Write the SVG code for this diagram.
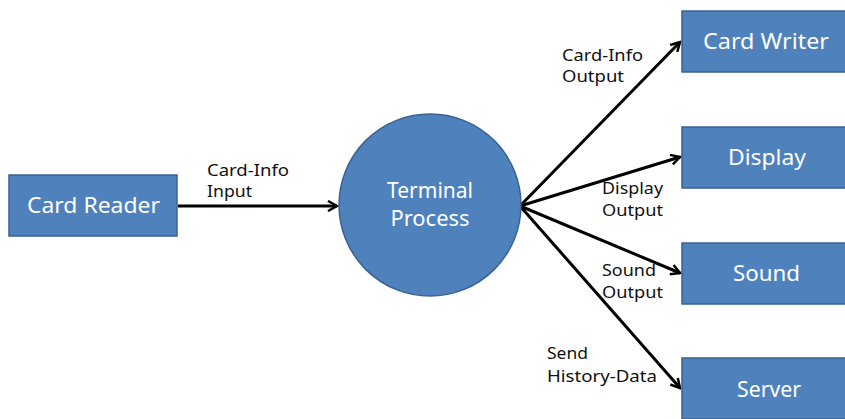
<svg xmlns="http://www.w3.org/2000/svg" width="845" height="419" viewBox="0 0 845 419">
<defs>
<style>
.box{fill:#4F81BD;stroke:#3A6291;stroke-width:1.5}
.bt{font-family:"Noto Sans","Open Sans",sans-serif;font-size:21px;fill:#fff;text-anchor:middle}
.lb{font-family:"Noto Sans","Open Sans",sans-serif;font-size:15.5px;fill:#111}
.cn{stroke:#000;stroke-width:3;fill:none;marker-end:url(#ah)}
</style>
<marker id="ah" viewBox="0 0 12 12" refX="10" refY="6" markerWidth="12" markerHeight="12" markerUnits="userSpaceOnUse" orient="auto">
<polyline points="1,1 10,6 1,11" fill="none" stroke="#000" stroke-width="2.5"/>
</marker>
</defs>
<rect width="845" height="419" fill="#fff"/>
<g id="connectors">
<line class="cn" x1="178" y1="206" x2="337" y2="206"/>
<line class="cn" x1="520" y1="206" x2="680" y2="42"/>
<line class="cn" x1="520" y1="206" x2="680" y2="157"/>
<line class="cn" x1="520" y1="206" x2="680" y2="273"/>
<line class="cn" x1="520" y1="206" x2="680" y2="388"/>
<text class="lb" x="207" y="176" textLength="82" lengthAdjust="spacingAndGlyphs">Card-Info</text>
<text class="lb" x="207" y="197" textLength="45" lengthAdjust="spacingAndGlyphs">Input</text>
<text class="lb" x="562" y="61" textLength="81" lengthAdjust="spacingAndGlyphs">Card-Info</text>
<text class="lb" x="562" y="82" textLength="62" lengthAdjust="spacingAndGlyphs">Output</text>
<text class="lb" x="602" y="194" textLength="61" lengthAdjust="spacingAndGlyphs">Display</text>
<text class="lb" x="602" y="216" textLength="61" lengthAdjust="spacingAndGlyphs">Output</text>
<text class="lb" x="602" y="276" textLength="54" lengthAdjust="spacingAndGlyphs">Sound</text>
<text class="lb" x="602" y="298" textLength="61" lengthAdjust="spacingAndGlyphs">Output</text>
<text class="lb" x="547" y="359" textLength="41" lengthAdjust="spacingAndGlyphs">Send</text>
<text class="lb" x="547" y="382" textLength="110" lengthAdjust="spacingAndGlyphs">History-Data</text>
</g>
<g id="card-reader">
<rect class="box" x="9" y="175" width="168" height="61"/>
<text class="bt" x="93.5" y="213" textLength="133" lengthAdjust="spacingAndGlyphs">Card Reader</text>
</g>
<g id="terminal-process">
<circle class="box" cx="430" cy="205" r="91"/>
<text class="bt" x="430" y="198" textLength="86" lengthAdjust="spacingAndGlyphs">Terminal</text>
<text class="bt" x="430" y="226" textLength="79" lengthAdjust="spacingAndGlyphs">Process</text>
</g>
<g id="card-writer">
<rect class="box" x="682" y="11" width="170" height="61"/>
<text class="bt" x="766" y="49" textLength="126" lengthAdjust="spacingAndGlyphs">Card Writer</text>
</g>
<g id="display">
<rect class="box" x="682" y="127" width="170" height="61"/>
<text class="bt" x="767" y="165" textLength="78" lengthAdjust="spacingAndGlyphs">Display</text>
</g>
<g id="sound">
<rect class="box" x="682" y="243" width="170" height="61"/>
<text class="bt" x="766.5" y="281" textLength="67" lengthAdjust="spacingAndGlyphs">Sound</text>
</g>
<g id="server">
<rect class="box" x="682" y="358" width="170" height="61"/>
<text class="bt" x="769" y="397" textLength="64" lengthAdjust="spacingAndGlyphs">Server</text>
</g>
</svg>
